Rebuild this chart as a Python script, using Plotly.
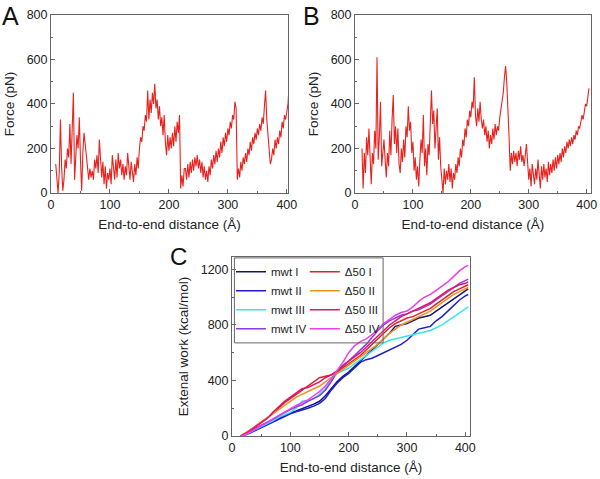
import plotly.graph_objects as go

# ---------------- data ----------------
# Panel A: force vs end-to-end distance, sampled every 2 Å from 8 Å
force_a = [
    130, 40, 0, 90, 330, 120, 10, 60, 150, 110,
    200, 160, 310, 130, 260, 450, 60, 180, 260, 200,
    340, 150, 10, 180, 270, 220, 160, 120, 60, 110,
    70, 100, 60, 150, 110, 170, 90, 240, 120, 70,
    140, 40, 120, 20, 90, 60, 110, 40, 170, 100,
    60, 150, 70, 180, 110, 150, 80, 130, 60, 120,
    80, 180, 110, 60, 140, 90, 50, 130, 80, 160,
    110, 200, 250, 230, 300, 280, 350, 320, 460, 330,
    420, 360, 450, 400, 490, 380, 420, 330, 390, 300,
    340, 260, 350, 230, 170, 260, 190, 250, 200, 270,
    210, 300, 230, 320, 270, 350, 20, 80, 30, 110,
    110, 60, 130, 70, 140, 90, 150, 100, 160, 120,
    170, 110, 150, 90, 140, 70, 120, 60, 100, 50,
    120, 80, 150, 110, 170, 130, 190, 140, 200, 160,
    230, 180, 250, 210, 270, 230, 290, 260, 320, 290,
    350, 330, 410, 380, 60, 110, 70, 140, 100, 160,
    130, 180, 140, 200, 170, 230, 190, 250, 220, 270,
    240, 290, 260, 310, 280, 340, 310, 390, 460, 330,
    250, 180, 130, 150, 200, 170, 240, 200, 250, 220,
    280, 250, 320, 290, 350, 330, 380, 400, 490,
]
dist_a = [8 + 2 * i for i in range(len(force_a))]

# Panel B: force vs end-to-end distance, sampled every 2 Å from 12 Å
force_b = [
    200, 20, 180, 90, 250, 170, 290, 120, 40, 180,
    130, 280, 200, 610, 150, 250, 410, 120, 200, 240,
    150, 70, 180, 120, 280, 170, 330, 440, 220, 300,
    180, 290, 130, 90, 200, 140, 240, 160, 300, 250,
    390, 280, 320, 180, 230, 100, 160, 60, 120, 30,
    150, 240, 180, 350, 120, 200, 80, 220, 170, 330,
    460, 310, 370, 200, 280, 380, 150, 250, 120, 60,
    0, 110, 40, 100, 60, 130, 50, 110, 20, 90,
    60, 130, 90, 160, 120, 200, 160, 240, 210, 290,
    250, 330, 300, 370, 340, 410, 380, 520, 350, 300,
    380, 320, 410, 330, 290, 330, 260, 300, 230, 280,
    200, 260, 220, 290, 240, 310, 260, 300, 280, 340,
    370, 420, 450, 520, 570, 500, 400, 250, 100, 180,
    130, 190, 140, 180, 120, 190, 150, 210, 140, 170,
    120, 180, 220, 140, 60, 110, 30, 130, 70, 40,
    110, 60, 150, 80, 20, 120, 60, 130, 70, 110,
    50, 140, 80, 130, 90, 150, 100, 160, 110, 170,
    130, 180, 140, 200, 160, 210, 180, 230, 200, 240,
    210, 250, 220, 260, 240, 280, 260, 300, 290, 320,
    350, 330, 370, 400, 390, 430, 470,
]
dist_b = [12 + 2 * i for i in range(len(force_b))]

# Panel C: external work curves
dist_c = [15, 20, 30, 40, 50, 60, 70, 80, 90, 100, 110, 120, 130, 140, 150,
          160, 170, 180, 190, 200, 210, 220, 230, 240, 250, 260, 270, 280,
          290, 300, 310, 320, 330, 340, 350, 360, 370, 380, 390, 400, 405]
work_mwt_1 = [0, 5, 25, 45, 65, 85, 105, 130, 150, 165, 180, 195, 210, 230, 250,
              290, 340, 390, 430, 460, 500, 540, 580, 620, 660, 700, 740, 790,
              800, 810, 830, 850, 860, 870, 900, 930, 960, 990, 1020, 1050, 1060]
work_mwt_2 = [0, 3, 20, 40, 60, 80, 100, 125, 145, 160, 175, 185, 200, 215, 235,
              270, 330, 380, 420, 450, 490, 530, 550, 560, 580, 600, 620, 640,
              660, 690, 730, 770, 780, 790, 830, 860, 900, 940, 980, 1010, 1020]
work_mwt_3 = [0, 5, 25, 45, 70, 90, 110, 135, 150, 170, 200, 250, 255, 270, 300,
              340, 400, 450, 470, 490, 520, 550, 580, 610, 640, 670, 690, 700,
              710, 715, 730, 740, 750, 760, 780, 800, 830, 860, 890, 920, 930]
work_mwt_4 = [0, 8, 35, 55, 80, 100, 120, 145, 170, 190, 210, 225, 250, 270, 290,
              330, 390, 460, 500, 540, 580, 620, 660, 710, 760, 800, 830, 850,
              870, 880, 900, 910, 930, 950, 980, 1010, 1040, 1070, 1100, 1120, 1130]
work_d50_1 = [0, 10, 40, 70, 100, 130, 160, 200, 240, 270, 300, 330, 360, 390, 420,
              430, 440, 460, 490, 520, 550, 580, 620, 660, 700, 740, 780, 810,
              830, 850, 860, 880, 900, 920, 950, 980, 1010, 1040, 1060, 1080, 1090]
work_d50_2 = [0, 12, 40, 70, 100, 130, 160, 190, 220, 250, 280, 300, 320, 340, 360,
              390, 420, 450, 480, 510, 540, 570, 600, 630, 660, 700, 740, 770,
              800, 820, 840, 860, 880, 900, 930, 960, 990, 1020, 1040, 1060, 1070]
work_d50_3 = [0, 10, 35, 65, 95, 125, 170, 210, 250, 280, 310, 340, 350, 370, 390,
              420, 440, 470, 510, 540, 570, 600, 640, 680, 720, 760, 800, 830,
              860, 880, 900, 920, 940, 960, 990, 1020, 1050, 1070, 1090, 1100, 1110]
work_d50_4 = [0, 5, 25, 50, 75, 100, 125, 150, 175, 200, 220, 240, 260, 290, 320,
              360, 410, 470, 530, 600, 650, 680, 700, 730, 770, 810, 840, 870,
              890, 900, 930, 970, 1000, 1020, 1050, 1080, 1110, 1150, 1190, 1220, 1230]

mwt_names = ["mwt I", "mwt II", "mwt III", "mwt IV"]
d50_names = ["Δ50 I", "Δ50 II", "Δ50 III", "Δ50 IV"]
mwt_work = [work_mwt_1, work_mwt_2, work_mwt_3, work_mwt_4]
d50_work = [work_d50_1, work_d50_2, work_d50_3, work_d50_4]
mwt_colors = ["#14147a", "#1e1ecc", "#38e4f2", "#8a3ce0"]
d50_colors = ["#d8242a", "#f0901e", "#e2146e", "#ea40ea"]

# ---------------- figure ----------------
FONT = "Liberation Sans, Arial, sans-serif"
fig = go.Figure()

fig.add_trace(go.Scatter(x=dist_a, y=force_a, mode="lines", xaxis="x", yaxis="y",
                         line=dict(color="#e8221e", width=1.1), showlegend=False))
fig.add_trace(go.Scatter(x=dist_b, y=force_b, mode="lines", xaxis="x2", yaxis="y2",
                         line=dict(color="#e8221e", width=1.1), showlegend=False))

for name, w, c in zip(mwt_names, mwt_work, mwt_colors):
    fig.add_trace(go.Scatter(x=dist_c, y=w, mode="lines", name=name, xaxis="x3", yaxis="y3",
                             line=dict(color=c, width=1.5), legend="legend"))
for name, w, c in zip(d50_names, d50_work, d50_colors):
    fig.add_trace(go.Scatter(x=dist_c, y=w, mode="lines", name=name, xaxis="x3", yaxis="y3",
                             line=dict(color=c, width=1.5), legend="legend2"))

def ax(domain, rng, dtick, minor, title, anchor, standoff):
    return dict(domain=domain, range=rng, dtick=dtick, tick0=0, anchor=anchor,
                automargin=False,
                showline=True, linecolor="#666666", linewidth=1, mirror=True,
                ticks="inside", ticklen=4, tickcolor="#666666",
                minor=dict(ticks="inside", ticklen=2, tickcolor="#666666", dtick=minor),
                showgrid=False, zeroline=False,
                tickfont=dict(size=12.5, color="#222", family=FONT),
                title=dict(text=title, font=dict(size=13.5, color="#222", family=FONT),
                           standoff=standoff))

xt = "End-to-end distance (Å)"
fig.update_layout(
    width=600, height=479, margin=dict(l=0, r=0, t=0, b=0, autoexpand=False),
    paper_bgcolor="white", plot_bgcolor="white",
    font=dict(family=FONT, color="#222"),
    xaxis=ax([0.085, 0.48], [0, 402], 100, 50, xt, "y", 8),
    yaxis=ax([0.597, 0.969], [0, 800], 200, 100, "Force (pN)", "x", 8),
    xaxis2=ax([0.5917, 0.9845], [0, 407], 100, 50, xt, "y2", 8),
    yaxis2=ax([0.597, 0.969], [0, 800], 200, 100, "Force (pN)", "x2", 8),
    xaxis3=ax([0.3867, 0.7833], [0, 408], 100, 50, xt, "y3", 8),
    yaxis3=ax([0.0898, 0.4635], [0, 1290], 400, 200, "Extenal work (kcal/mol)", "x3", 8),
    legend=dict(x=0.385, y=0.463, xanchor="left", yanchor="top", bgcolor="rgba(0,0,0,0)",
                font=dict(size=11.5, family=FONT, color="#222"), tracegroupgap=0),
    legend2=dict(x=0.508, y=0.463, xanchor="left", yanchor="top", bgcolor="rgba(0,0,0,0)",
                 font=dict(size=11.5, family=FONT, color="#222"), tracegroupgap=0),
    shapes=[dict(type="rect", xref="x3 domain", yref="y3 domain", x0=0.01, x1=0.635,
                 y0=0.52, y1=0.995, line=dict(color="#666666", width=1))],
    annotations=[
        dict(text="A", x=0.0, y=1.0, xref="paper", yref="paper", xanchor="left", yanchor="top",
             showarrow=False, font=dict(size=25, family=FONT, color="#111")),
        dict(text="B", x=0.502, y=1.0, xref="paper", yref="paper", xanchor="left", yanchor="top",
             showarrow=False, font=dict(size=25, family=FONT, color="#111")),
        dict(text="C", x=0.28, y=0.497, xref="paper", yref="paper", xanchor="left", yanchor="top",
             showarrow=False, font=dict(size=24, family=FONT, color="#111")),
    ],
)

fig.write_html("out.html", config={"displayModeBar": False},
               post_script="document.body.style.margin='0px';document.body.style.overflow='hidden';")
